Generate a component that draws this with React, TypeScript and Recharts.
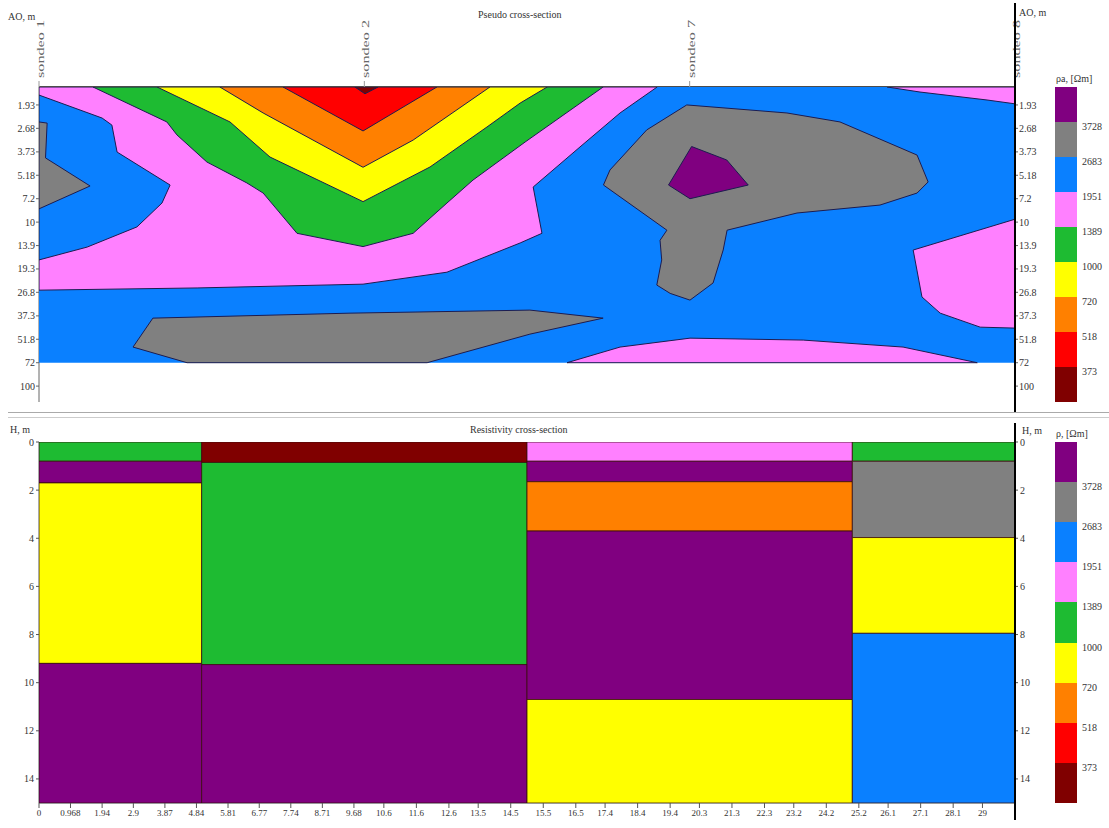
import React from 'react';
import { ScatterChart, Scatter, XAxis, YAxis } from 'recharts';

const FONT = "'Liberation Serif', 'DejaVu Serif', serif";

const PURPLE = '#800080';
const GRAY = '#808080';
const BLUE = '#0A80FF';
const PINK = '#FF80FF';
const GREEN = '#1EBB32';
const YELLOW = '#FFFF00';
const ORANGE = '#FF8000';
const RED = '#FF0000';
const DARKRED = '#800000';
const EDGE = '#1c1c50';

// ---------- Pseudo cross-section (distance m, AO m) ----------
const AO_TICKS = [1.93, 2.68, 3.73, 5.18, 7.2, 10, 13.9, 19.3, 26.8, 37.3, 51.8, 72, 100];
const SOUNDING_X = [0, 10, 20, 30];
const SOUNDING_LABELS = ['sondeo 1', 'sondeo 2', 'sondeo 7', 'sondeo 8'];

const BG_BLUE = [[0, 1.5], [30, 1.5], [30, 72], [0, 72]];
const PINK_MAIN = [[0, 1.5], [19.0, 1.5], [17.86, 2.16], [16.63, 3.48], [15.19, 6.11], [15.46, 11.7], [14.79, 13.4], [12.54, 20.2], [9.96, 23.9], [4.86, 25.2], [0, 26.0]];
const BLUE_LEFT = [[0, 1.68], [1.94, 2.32], [2.24, 2.56], [2.4, 3.74], [4.03, 5.94], [3.78, 7.65], [3.01, 10.7], [1.48, 14.2], [0, 17.0]];
const GRAY_LEFT = [[0, 2.45], [0.25, 2.49], [0.2, 4.06], [1.57, 6.02], [0, 8.3]];
const GREEN_ZONE = [[1.66, 1.5], [3.93, 2.45], [4.24, 2.94], [5.16, 4.3], [6.39, 5.77], [6.89, 6.65], [7.93, 11.7], [9.96, 14.1], [11.5, 11.7], [12.54, 7.65], [13.34, 5.54], [14.94, 3.25], [17.34, 1.5]];
const YELLOW_ZONE = [[3.63, 1.5], [5.87, 2.45], [7.1, 4.01], [9.96, 7.5], [12.02, 4.61], [13.77, 2.63], [14.79, 1.88], [15.62, 1.5]];
const ORANGE_ZONE = [[5.56, 1.5], [6.89, 2.16], [9.96, 4.63], [11.5, 3.16], [13.86, 1.5]];
const RED_ZONE = [[7.5, 1.5], [9.96, 2.78], [12.23, 1.5]];
const DARKRED_ZONE = [[9.71, 1.5], [10.02, 1.65], [10.42, 1.5]];
const GRAY_BOTTOM = [[3.5, 38.5], [9.56, 35.9], [15.09, 34.4], [17.34, 38.5], [15.09, 48.2], [11.93, 72], [4.55, 72], [2.89, 57.8]];
const PINK_BOTTOM = [[16.23, 72], [17.86, 57.8], [20.01, 51.0], [23.49, 52.4], [26.56, 57.8], [28.84, 72]];
const PINK_RIGHT = [[30, 9.6], [26.87, 14.8], [27.14, 28.6], [27.7, 35.9], [28.93, 43.7], [30, 44.3]];
const PINK_TOPRIGHT = [[26.07, 1.5], [27.08, 1.61], [29.14, 1.8], [30, 1.9], [30, 1.5]];
const GRAY_CENTER = [[19.91, 1.93], [22.99, 2.16], [24.62, 2.45], [26.99, 3.9], [27.33, 5.69], [26.99, 6.65], [25.85, 7.87], [23.3, 8.8], [21.15, 11.2], [21.03, 14.8], [20.72, 23.5], [20.01, 29.9], [19.4, 27.2], [18.99, 24.2], [19.14, 17.0], [19.09, 12.9], [19.3, 11.2], [17.35, 5.94], [17.55, 4.81], [18.68, 2.74]];
const PURPLE_ZONE = [[20.06, 3.46], [21.14, 4.18], [21.8, 5.94], [20.01, 7.2], [19.35, 5.94]];

const CONTOURS = [
  { pts: BG_BLUE, color: BLUE, stroke: 'none' },
  { pts: PINK_MAIN, color: PINK, stroke: EDGE },
  { pts: BLUE_LEFT, color: BLUE, stroke: EDGE },
  { pts: GRAY_LEFT, color: GRAY, stroke: EDGE },
  { pts: GREEN_ZONE, color: GREEN, stroke: EDGE },
  { pts: YELLOW_ZONE, color: YELLOW, stroke: EDGE },
  { pts: ORANGE_ZONE, color: ORANGE, stroke: EDGE },
  { pts: RED_ZONE, color: RED, stroke: EDGE },
  { pts: DARKRED_ZONE, color: DARKRED, stroke: EDGE },
  { pts: GRAY_BOTTOM, color: GRAY, stroke: EDGE },
  { pts: PINK_BOTTOM, color: PINK, stroke: EDGE },
  { pts: PINK_RIGHT, color: PINK, stroke: EDGE },
  { pts: PINK_TOPRIGHT, color: PINK, stroke: EDGE },
  { pts: GRAY_CENTER, color: GRAY, stroke: EDGE },
  { pts: PURPLE_ZONE, color: PURPLE, stroke: EDGE },
];

// ---------- Resistivity cross-section (distance m, depth H m) ----------
const X_TICKS = [0, 0.968, 1.94, 2.9, 3.87, 4.84, 5.81, 6.77, 7.74, 8.71, 9.68, 10.6, 11.6, 12.6, 13.5, 14.5, 15.5, 16.5, 17.4, 18.4, 19.4, 20.3, 21.3, 22.3, 23.2, 24.2, 25.2, 26.1, 27.1, 28.1, 29];
const H_TICKS = [0, 2, 4, 6, 8, 10, 12, 14];
const COL_EDGES = [0, 5, 15, 25, 30];
const COL1_DEPTHS = [0, 0.8, 1.7, 9.2, 15];
const COL1_COLORS = [GREEN, PURPLE, YELLOW, PURPLE];
const COL2_DEPTHS = [0, 0.85, 9.25, 15];
const COL2_COLORS = [DARKRED, GREEN, PURPLE];
const COL3_DEPTHS = [0, 0.8, 1.65, 3.7, 10.7, 15];
const COL3_COLORS = [PINK, PURPLE, ORANGE, PURPLE, YELLOW];
const COL4_DEPTHS = [0, 0.8, 3.97, 7.95, 15];
const COL4_COLORS = [GREEN, GRAY, YELLOW, BLUE];
const COLUMNS = [
  { depths: COL1_DEPTHS, colors: COL1_COLORS },
  { depths: COL2_DEPTHS, colors: COL2_COLORS },
  { depths: COL3_DEPTHS, colors: COL3_COLORS },
  { depths: COL4_DEPTHS, colors: COL4_COLORS },
];

// ---------- Legend ----------
const LEGEND_COLORS = [PURPLE, GRAY, BLUE, PINK, GREEN, YELLOW, ORANGE, RED, DARKRED];
const LEGEND_LABELS = ['3728', '2683', '1951', '1389', '1000', '720', '518', '373'];

const Empty = () => <g />;

const SoundingTick = (props: any) => {
  const { x, y, payload } = props;
  const idx = SOUNDING_X.indexOf(payload.value);
  return (
    <text
      transform={`translate(${x + 5},${y - 1}) rotate(-90)`}
      fontSize={10}
      fontFamily={FONT}
      fill="#666"
      textAnchor="start"
      textLength={58}
      lengthAdjust="spacingAndGlyphs"
    >
      {SOUNDING_LABELS[idx]}
    </text>
  );
};

const tickStyle = { fontSize: 10, fill: '#333', fontFamily: FONT };

const LAYERS = COLUMNS.flatMap((col, ci) =>
  col.colors.map((color, li) => {
    const x0 = COL_EDGES[ci];
    const x1 = COL_EDGES[ci + 1];
    const d0 = col.depths[li];
    const d1 = col.depths[li + 1];
    return {
      color,
      pts: [
        { x: x0, y: d0 },
        { x: x1, y: d0 },
        { x: x1, y: d1 },
        { x: x0, y: d1 },
        { x: x0, y: d0 },
      ],
    };
  })
);

const Legend = ({ top, height, title }: { top: number; height: number; title: string }) => {
  const seg = height / LEGEND_COLORS.length;
  return (
    <>
      <div style={{ position: 'absolute', left: 1056, top: top - 14, fontSize: 10, fontFamily: FONT, color: '#333', whiteSpace: 'nowrap' }}>{title}</div>
      {LEGEND_COLORS.map((c, i) => (
        <div key={c + i} style={{ position: 'absolute', left: 1055, top: top + i * seg, width: 22, height: seg, background: c }} />
      ))}
      {LEGEND_LABELS.map((l, i) => (
        <div key={l} style={{ position: 'absolute', left: 1082, top: top + (i + 1) * seg - 1, fontSize: 10, fontFamily: FONT, color: '#333' }}>{l}</div>
      ))}
    </>
  );
};

export default function App() {
  return (
    <div style={{ position: 'absolute', left: 0, top: 0, width: 1109, height: 828, background: '#fff', fontFamily: FONT, overflow: 'hidden' }}>
      {/* Pseudo cross-section */}
      <div style={{ position: 'absolute', left: 0, top: 0 }}>
        <ScatterChart width={1109} height={410} margin={{ top: 27, right: 64, bottom: 8, left: 9 }}>
          <XAxis xAxisId="t" orientation="top" type="number" dataKey="x" domain={[0, 30]} ticks={SOUNDING_X} interval={0} height={60} tick={<SoundingTick />} tickSize={6} axisLine={{ stroke: '#111', strokeWidth: 1.5 }} tickLine={{ stroke: '#999' }} allowDataOverflow />
          <XAxis xAxisId="b" orientation="bottom" type="number" dataKey="x" domain={[0, 30]} height={0} tick={false} tickLine={false} axisLine={{ stroke: '#aaa', strokeWidth: 1.5 }} allowDataOverflow />
          <YAxis yAxisId="l" orientation="left" type="number" dataKey="y" scale="log" domain={[1.5, 125]} reversed ticks={AO_TICKS} interval={0} width={30} tick={tickStyle} tickSize={3} tickMargin={1} axisLine={{ stroke: '#666' }} tickLine={{ stroke: '#666' }} allowDataOverflow />
          <YAxis yAxisId="r" orientation="right" type="number" dataKey="y" scale="log" domain={[1.5, 125]} reversed ticks={AO_TICKS} interval={0} width={30} tick={tickStyle} tickSize={3} tickMargin={1} axisLine={{ stroke: '#000', strokeWidth: 2 }} tickLine={{ stroke: '#666' }} allowDataOverflow />
          {CONTOURS.map((c, i) => (
            <Scatter
              key={i}
              xAxisId="t"
              yAxisId="l"
              data={[...c.pts, c.pts[0]].map(([x, y]) => ({ x, y }))}
              fill={c.color}
              line={{ fill: c.color, stroke: c.stroke, strokeWidth: 1 }}
              lineType="joint"
              shape={Empty}
              legendType="none"
              isAnimationActive={false}
            />
          ))}
        </ScatterChart>
      </div>

      {/* Resistivity cross-section */}
      <div style={{ position: 'absolute', left: 0, top: 410 }}>
        <ScatterChart width={1109} height={418} margin={{ top: 32, right: 64, bottom: 0, left: 9 }}>
          <XAxis xAxisId="x" orientation="bottom" type="number" dataKey="x" domain={[0, 30]} ticks={X_TICKS} interval={0} height={25} tick={{ ...tickStyle, fontSize: 9 }} tickSize={5} tickMargin={2} axisLine={{ stroke: '#333' }} tickLine={{ stroke: '#555' }} allowDataOverflow />
          <XAxis xAxisId="top" orientation="top" type="number" dataKey="x" domain={[0, 30]} height={0} tick={false} tickLine={false} axisLine={{ stroke: '#000', strokeWidth: 2 }} allowDataOverflow />
          <YAxis yAxisId="l" orientation="left" type="number" dataKey="y" domain={[0, 15]} reversed ticks={H_TICKS} interval={0} width={30} tick={tickStyle} tickSize={3} tickMargin={2} axisLine={{ stroke: '#555' }} tickLine={{ stroke: '#555' }} allowDataOverflow />
          <YAxis yAxisId="r" orientation="right" type="number" dataKey="y" domain={[0, 15]} reversed ticks={H_TICKS} interval={0} width={30} tick={tickStyle} tickSize={3} tickMargin={2} axisLine={{ stroke: '#000', strokeWidth: 2 }} tickLine={{ stroke: '#555' }} allowDataOverflow />
          {LAYERS.map((l, i) => (
            <Scatter
              key={i}
              xAxisId="x"
              yAxisId="l"
              data={l.pts}
              fill={l.color}
              line={{ fill: l.color, stroke: '#3a0d0d', strokeWidth: 0.8 }}
              lineType="joint"
              shape={Empty}
              legendType="none"
              isAnimationActive={false}
            />
          ))}
        </ScatterChart>
      </div>

      {/* Frame decorations and labels */}
      <div style={{ position: 'absolute', left: 1014, top: 3, width: 2, height: 410, background: '#000' }} />
      <div style={{ position: 'absolute', left: 1014, top: 423, width: 2, height: 397, background: '#000' }} />
      <div style={{ position: 'absolute', left: 8, top: 412, width: 1101, height: 1, background: '#aaa' }} />
      <div style={{ position: 'absolute', left: 8, top: 417, width: 1101, height: 1, background: '#ccc' }} />

      <div style={{ position: 'absolute', left: 8, top: 11, fontSize: 10, color: '#333' }}>AO, m</div>
      <div style={{ position: 'absolute', left: 1019, top: 7, fontSize: 10, color: '#333' }}>AO, m</div>
      <div style={{ position: 'absolute', left: 478, top: 9, fontSize: 10, color: '#333' }}>Pseudo cross-section</div>

      <div style={{ position: 'absolute', left: 10, top: 424, fontSize: 10, color: '#333' }}>H, m</div>
      <div style={{ position: 'absolute', left: 1022, top: 425, fontSize: 10, color: '#333' }}>H, m</div>
      <div style={{ position: 'absolute', left: 470, top: 424, fontSize: 10, color: '#333' }}>Resistivity cross-section</div>

      <Legend top={87} height={315} title="ρa, [Ωm]" />
      <Legend top={442} height={361} title="ρ, [Ωm]" />
    </div>
  );
}
